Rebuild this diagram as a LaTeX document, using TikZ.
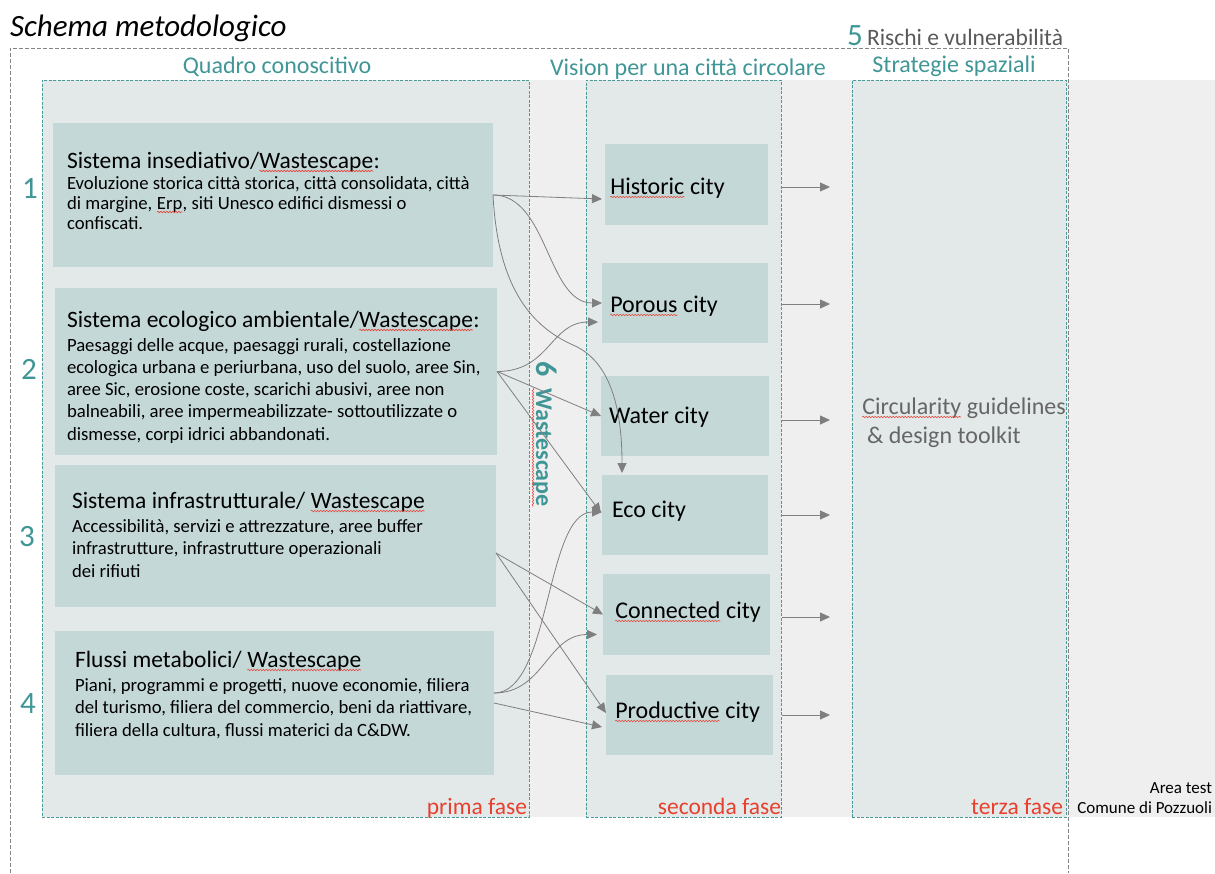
\documentclass[tikz,border=0pt]{standalone}
\usepackage{fontspec}
\setmainfont{Carlito}
\usetikzlibrary{arrows.meta,calc,fit,decorations.pathmorphing}
\definecolor{tealtxt}{HTML}{409696}
\definecolor{tealline}{HTML}{4A9A9A}
\definecolor{boxfill}{HTML}{C5D8D8}
\definecolor{panelfill}{HTML}{E3E9E9}
\definecolor{bandfill}{HTML}{EFEFEF}
\definecolor{redtxt}{HTML}{E8402E}
\definecolor{arrowgray}{HTML}{7F7F7F}
\definecolor{darktxt}{HTML}{595959}
\definecolor{midtxt}{HTML}{666666}
\definecolor{squigred}{HTML}{E8473A}
\definecolor{outergray}{HTML}{858585}
\newcommand\sq[1]{\tikz[baseline=(sqw.base)]{\node[inner sep=0pt,outer sep=0pt,anchor=base](sqw){#1};\draw[squigred,line width=0.6pt,decorate,decoration={snake,amplitude=0.8pt,segment length=3pt}]([yshift=-3pt]sqw.base west)--([yshift=-3pt]sqw.base east);}}
\newcommand\bodylines[3]{\vtop{\fontsize{#1}{#2}\selectfont #3}}
\begin{document}
\begin{tikzpicture}[x=1pt,y=-1pt,
  box/.style={fill=boxfill,draw=none,inner sep=0pt,outer sep=0pt},
  panel/.style={fill=panelfill,draw=tealline,dash pattern=on 3pt off 1.5pt,line width=0.8pt,inner sep=0pt,outer sep=0pt},
  conn/.style={draw=arrowgray,line width=0.8pt,-{Triangle[length=10pt,width=9pt]}},
  plain/.style={inner sep=0pt,outer sep=0pt},
  heading/.style={plain,anchor=base,text=tealtxt,font=\fontsize{24}{28}\selectfont},
  num/.style={plain,anchor=base,text=tealtxt,font=\fontsize{31}{36}\selectfont},
  boxhead/.style={plain,anchor=base west,font=\fontsize{23.5}{28}\selectfont},
  city/.style={plain,anchor=base west,font=\fontsize{24}{28}\selectfont},
  phase/.style={plain,anchor=base east,text=redtxt,font=\fontsize{23.5}{28}\selectfont}]
\useasboundingbox (0,0) rectangle (1215,873);
\fill[bandfill] (42,80) rectangle (1215,817);
\draw[outergray,line width=0.8pt,dash pattern=on 4pt off 2pt] (10,873) -- (10,48) -- (1068,48) -- (1068,873);
% title
\node[plain,anchor=base west,font=\fontsize{31}{36}\selectfont\itshape] (title) at (10,36) {Schema metodologico};
% panels
\node[panel,fit={(42,80)(529,817)}] (quadro) {};
\node[panel,fit={(586,80)(781,817)}] (vis) {};
\node[panel,fit={(852,80)(1066,817)}] (strat) {};
% headings
\node[heading] (hq) at (277,73) {Quadro conoscitivo};
\node[heading] (hv) at (688,75) {Vision per una città circolare};
\node[heading] (hs) at (954,72) {Strategie spaziali};
\node[num,anchor=base west] (n5) at (847,45) {5};
\node[plain,anchor=base west,text=darktxt,font=\fontsize{23.5}{28}\selectfont] (risk) at (867,45) {Rischi e vulnerabilità};
% left boxes
\node[box,fit={(53,123)(493,267)}] (b1) {};
\node[box,fit={(55,288)(497,455)}] (b2) {};
\node[box,fit={(55,465)(496,607)}] (b3) {};
\node[box,fit={(55,631)(494,775)}] (b4) {};
\node[num] (n1) at (30,198) {1};
\node[num] (n2) at (29,379) {2};
\node[num] (n3) at (27,546) {3};
\node[num] (n4) at (28,713) {4};
\node[boxhead] (b1h) at (67,168) {Sistema insediativo/\sq{Wastescape}:};
\node[plain,anchor=base west] (b1t) at (67,189) {\bodylines{18.7}{20}{\hbox{Evoluzione storica città storica, città consolidata, città}\hbox{di margine, \sq{Erp}, siti Unesco edifici dismessi o}\hbox{confiscati.}}};
\node[boxhead] (b2h) at (67,327) {Sistema ecologico ambientale/\sq{Wastescape}:};
\node[plain,anchor=base west] (b2t) at (67,351) {\bodylines{18.7}{22.3}{\hbox{Paesaggi delle acque, paesaggi rurali, costellazione}\hbox{ecologica urbana e periurbana, uso del suolo, aree Sin,}\hbox{aree Sic, erosione coste, scarichi abusivi, aree non}\hbox{balneabili, aree impermeabilizzate- sottoutilizzate o}\hbox{dismesse, corpi idrici abbandonati.}}};
\node[boxhead] (b3h) at (72,508) {Sistema infrastrutturale/ \sq{Wastescape}};
\node[plain,anchor=base west] (b3t) at (72,532) {\bodylines{18.7}{22.5}{\hbox{Accessibilità, servizi e attrezzature, aree buffer}\hbox{infrastrutture, infrastrutture operazionali}\hbox{dei rifiuti}}};
\node[boxhead] (b4h) at (75,667) {Flussi metabolici/ \sq{Wastescape}};
\node[plain,anchor=base west] (b4t) at (75,691) {\bodylines{18.7}{22.5}{\hbox{Piani, programmi e progetti, nuove economie, filiera}\hbox{del turismo, filiera del commercio, beni da riattivare,}\hbox{filiera della cultura, flussi materici da C\&DW.}}};
% wastescape vertical label
\node[plain,anchor=base west,rotate=-90,text=tealtxt,font=\fontsize{30}{34}\selectfont\bfseries] (ws6) at (536,361) {6};
\node[plain,anchor=base west,rotate=-90,text=tealtxt,font=\fontsize{24}{28}\selectfont\bfseries] (ws) at (536,388) {\sq{Wastescape}};
% city boxes
\node[box,fit={(605,144)(768,225)}] (h) {};
\node[box,fit={(602,263)(768,343)}] (p) {};
\node[box,fit={(601,376)(769,456)}] (w) {};
\node[box,fit={(602,475)(768,555)}] (e) {};
\node[box,fit={(603,574)(770,655)}] (c) {};
\node[box,fit={(606,675)(773,755)}] (pr) {};
\node[city] (ht) at (610,194) {\sq{Historic} city};
\node[city] (pt) at (610,312) {\sq{Porous} city};
\node[city] (wt) at (609,423) {Water city};
\node[city] (et) at (612,517) {Eco city};
\node[city] (ct) at (615,618) {\sq{Connected} city};
\node[city] (prt) at (615,718) {\sq{Productive} city};
% strategy text
\node[plain,anchor=base west,text=midtxt,font=\fontsize{24}{28}\selectfont] (st1) at (862,414) {\sq{Circularity} guidelines};
\node[plain,anchor=base west,text=midtxt,font=\fontsize{24}{28}\selectfont] (st2) at (867,443) {\& design toolkit};
% phases
\node[phase] (f1) at (527,814) {prima fase};
\node[phase] (f2) at (781,814) {seconda fase};
\node[phase] (f3) at (1063,814) {terza fase};
\node[plain,anchor=base east,font=\fontsize{17}{20}\selectfont] (at1) at (1212,793) {Area test};
\node[plain,anchor=base east,font=\fontsize{17}{20}\selectfont] (at2) at (1212,813) {Comune di Pozzuoli};
% connectors
\draw[conn] (b1.east) -- ($(h.west)+(-3,14.5)$);
\draw[conn] (b1.east) .. controls +(55,0) and +(-55,0) .. (p.west);
\draw[conn] (b1.east) .. controls +(5,95) and +(-40,-18) .. ++(80,150) .. controls +(35,15) and +(0,-70) .. ($(e.north west)+(20,-2)$);
\draw[conn] (b2.east) .. controls +(53,0) and +(-48,0) .. ($(p.west)+(-4,19)$);
\draw[conn] (b2.east) -- (w.west);
\draw[conn] (b2.east) -- ($(e.west)+(-1,-2)$);
\draw[conn] ($(b3.east)+(0,17)$) -- (c.west);
\draw[conn] ($(b3.east)+(0,17)$) -- ($(pr.west)+(0,-2)$);
\draw[conn] ($(b4.east)+(0,-10)$) .. controls +(57,0) and +(-57,0) .. ($(e.west)+(0,-3)$);
\draw[conn] ($(b4.east)+(0,-10)$) .. controls +(50,0) and +(-50,0) .. ($(c.west)+(-6,20)$);
\draw[conn] (b4.east) -- ($(pr.west)+(-4,12)$);
% outgoing arrows
\draw[conn] ($(vis.east |- h.center)+(1,2.5)$) -- ++(48,0);
\draw[conn] ($(vis.east |- p.center)+(1,1)$) -- ++(48,0);
\draw[conn] ($(vis.east |- w.center)+(1,4)$) -- ++(48,0);
\draw[conn] ($(vis.east |- e.center)+(1,0)$) -- ++(48,0);
\draw[conn] ($(vis.east |- c.center)+(1,2.5)$) -- ++(48,0);
\draw[conn] ($(vis.east |- pr.center)+(1,0)$) -- ++(48,0);
\end{tikzpicture}
\end{document}
